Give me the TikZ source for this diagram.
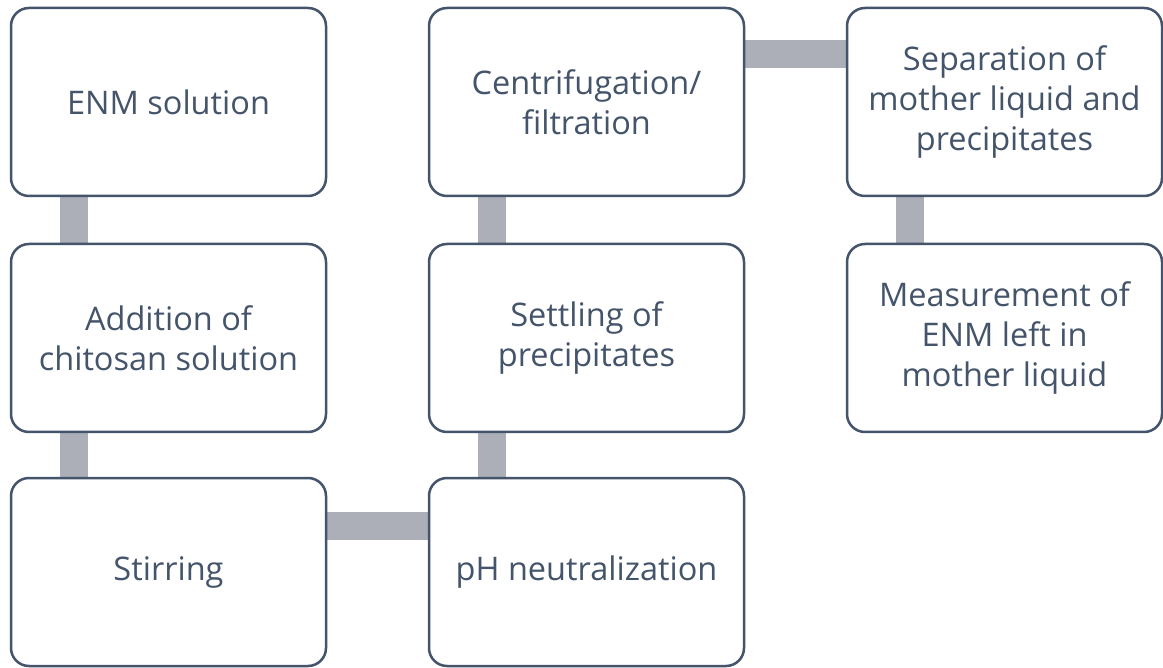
\documentclass[tikz,border=0pt]{standalone}
\usepackage{fontspec}
\setmainfont{Open Sans}
\usetikzlibrary{backgrounds}
\definecolor{boxline}{HTML}{44546A}
\definecolor{barcol}{HTML}{ADAFB8}
\begin{document}
\begin{tikzpicture}[x=1pt,y=-1pt,
  stepbox/.style={draw=boxline, fill=white, line width=2.5pt, rounded corners=18pt,
    minimum width=315pt, minimum height=188pt, align=center, text=boxline,
    font=\fontsize{32.5}{40}\selectfont, inner sep=0pt},
  barfill/.style={fill=barcol}]
\useasboundingbox (0,0) rectangle (1163,668);
\node[stepbox] (enm) at (168.5,102) {ENM solution};
\node[stepbox] (add) at (168.5,338) {Addition of\\chitosan solution};
\node[stepbox] (stir) at (168.5,572) {Stirring};
\node[stepbox] (ph) at (586.5,572) {pH neutralization};
\node[stepbox] (settle) at (586.5,338) {Settling of\\precipitates};
\node[stepbox] (cent) at (586.5,102) {Centrifugation/\\filtration};
\node[stepbox] (sep) at (1004.5,102) {Separation of\\mother liquid and\\precipitates};
\node[stepbox] (meas) at (1004.5,338) {Measurement of\\ENM left in\\mother liquid};
\begin{scope}[on background layer]
\fill[white] (0,0) rectangle (1163,668);
\fill[barfill] ([xshift=50pt]enm.south west) rectangle ([xshift=78pt]add.north west);
\fill[barfill] ([xshift=50pt]add.south west) rectangle ([xshift=78pt]stir.north west);
\fill[barfill] ([yshift=-35pt]stir.north east) rectangle ([yshift=-63pt]ph.north west);
\fill[barfill] ([xshift=50pt]settle.south west) rectangle ([xshift=78pt]ph.north west);
\fill[barfill] ([xshift=50pt]cent.south west) rectangle ([xshift=78pt]settle.north west);
\fill[barfill] ([yshift=-33pt]cent.north east) rectangle ([yshift=-61pt]sep.north west);
\fill[barfill] ([xshift=50pt]sep.south west) rectangle ([xshift=78pt]meas.north west);
\end{scope}
\end{tikzpicture}
\end{document}
